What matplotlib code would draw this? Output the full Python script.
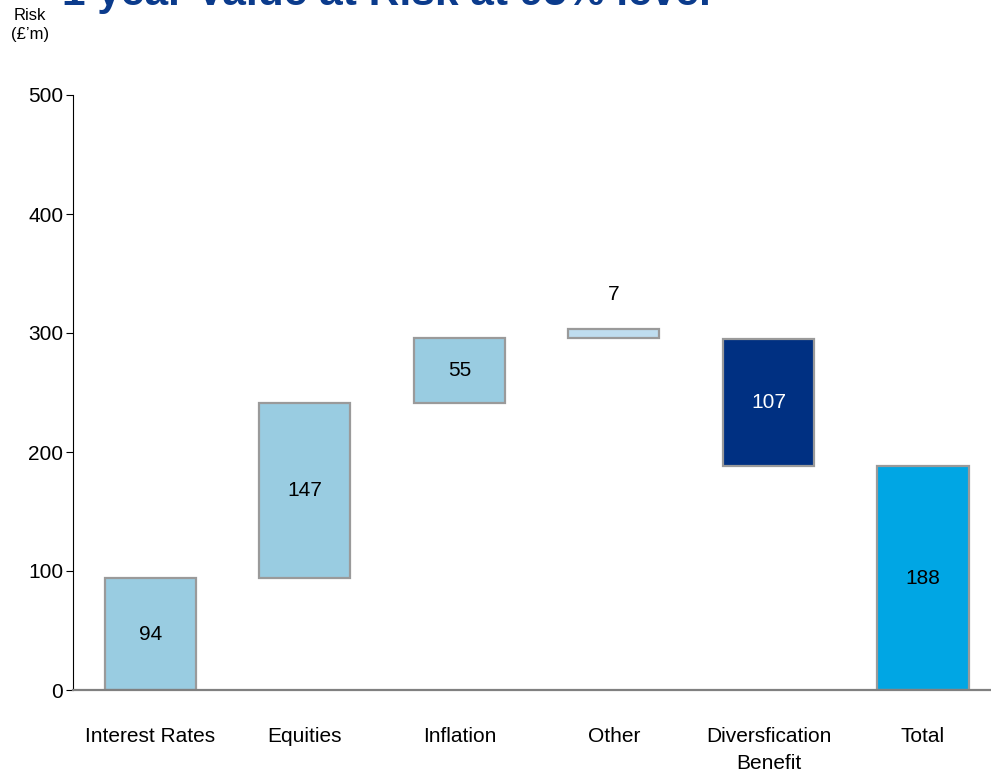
import matplotlib
matplotlib.use("Agg")
import matplotlib.pyplot as plt
from matplotlib import font_manager

# data
categories = ["Interest Rates", "Equities", "Inflation", "Other",
              "Diversfication\nBenefit", "Total"]
components = [94, 147, 55, 7]      # stacked upwards
diversification = 107              # hangs down from the top to the total
total = 188

names = {f.name for f in font_manager.fontManager.ttflist}
narrow = "Liberation Sans Narrow" if "Liberation Sans Narrow" in names else "Liberation Sans"
plt.rcParams["font.family"] = [narrow, "DejaVu Sans"]

fig = plt.figure(figsize=(9.91, 7.80), dpi=100)
ax = fig.add_axes([73 / 991, 90 / 780, 918 / 991, 595 / 780])

light = "#99CCE1"
edge = "#9A9A9A"

# waterfall bottoms from the running sum
bottoms = []
run = 0
for v in components:
    bottoms.append(run)
    run += v

colors = [light, light, light, "#BFDDEF"]
for i, (b, v) in enumerate(zip(bottoms, components)):
    ax.bar(i, v, bottom=b, width=0.59, color=colors[i], edgecolor=edge, linewidth=1.6)

ax.bar(4, diversification, bottom=total, width=0.59, color="#003082",
       edgecolor=edge, linewidth=1.6)
ax.bar(5, total, width=0.59, color="#00A6E4", edgecolor=edge, linewidth=1.6)

# value labels
for i in range(3):
    ax.text(i, bottoms[i] + components[i] / 2, str(components[i]),
            ha="center", va="center", fontsize=15)
ax.annotate(str(components[3]), (3, bottoms[3] + components[3]),
            xytext=(0, 25), textcoords="offset points",
            ha="center", va="center", fontsize=15)
ax.text(4, total + diversification / 2, str(diversification), ha="center",
        va="center", fontsize=15, color="white")
ax.text(5, total / 2, str(total), ha="center", va="center", fontsize=15)

ax.set_xlim(-0.5, 5.44)
ax.set_ylim(0, 500)
ax.set_yticks([0, 100, 200, 300, 400, 500])
ax.set_xticks(range(len(categories)))
ax.set_xticklabels(categories, fontsize=15, linespacing=1.5)
ax.tick_params(axis="x", length=0, pad=27)
ax.tick_params(axis="y", length=5, width=0.8, labelsize=15, pad=2)

ax.spines["top"].set_visible(False)
ax.spines["right"].set_visible(False)
ax.spines["left"].set_linewidth(0.8)
ax.spines["bottom"].set_color("#808080")
ax.spines["bottom"].set_linewidth(1.6)

# title sits mostly above the top edge, as in the reference
fig.text(62 / 991, 1 - 5 / 780, "1 year Value at Risk at 95% level",
         fontsize=30.5, fontweight="bold", color="#0B3B8C",
         family="Liberation Sans", ha="left", va="baseline")
fig.text(30 / 991, 1 - 25 / 780, "Risk\n(£’m)", fontsize=12,
         family="Liberation Sans", ha="center", va="center", linespacing=1.3)

fig.savefig("out.png", dpi=100)
